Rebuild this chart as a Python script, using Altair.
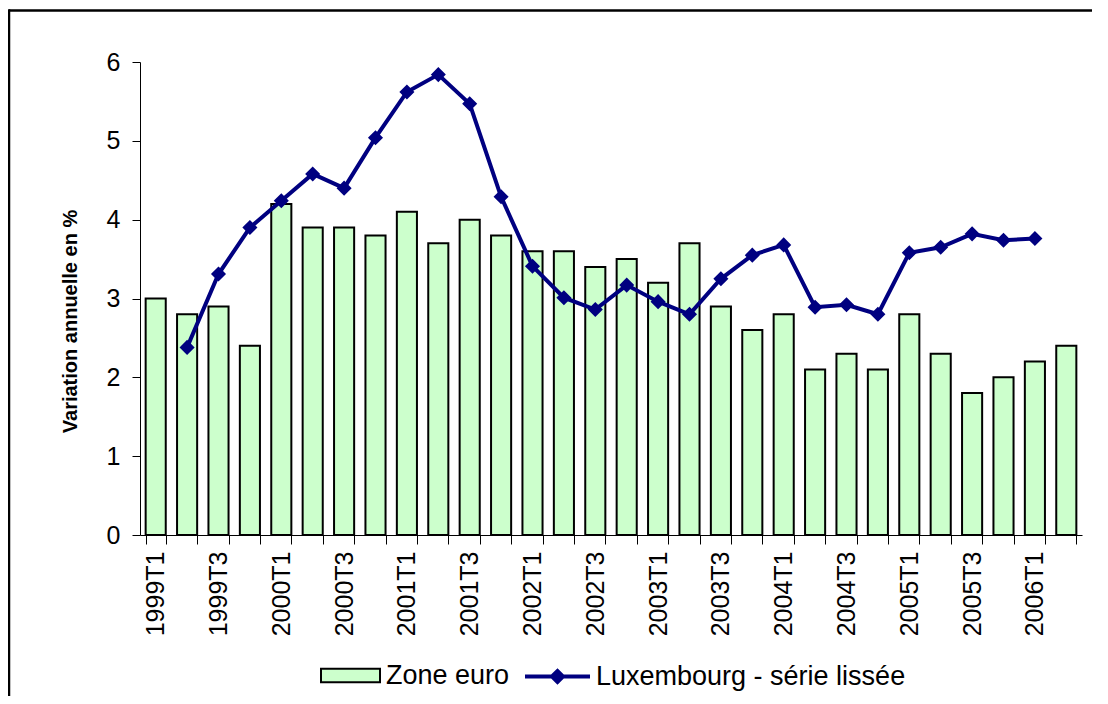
import altair as alt
import pandas as pd

quarters = [
    "1999T1", "1999T2", "1999T3", "1999T4",
    "2000T1", "2000T2", "2000T3", "2000T4",
    "2001T1", "2001T2", "2001T3", "2001T4",
    "2002T1", "2002T2", "2002T3", "2002T4",
    "2003T1", "2003T2", "2003T3", "2003T4",
    "2004T1", "2004T2", "2004T3", "2004T4",
    "2005T1", "2005T2", "2005T3", "2005T4",
    "2006T1", "2006T2",
]
zone_euro = [
    3.0, 2.8, 2.9, 2.4,
    4.2, 3.9, 3.9, 3.8,
    4.1, 3.7, 4.0, 3.8,
    3.6, 3.6, 3.4, 3.5,
    3.2, 3.7, 2.9, 2.6,
    2.8, 2.1, 2.3, 2.1,
    2.8, 2.3, 1.8, 2.0,
    2.2, 2.4,
]
lux_quarters = quarters[1:29]
luxembourg = [
    2.38, 3.31, 3.90,
    4.24, 4.58, 4.40, 5.04,
    5.62, 5.84, 5.47, 4.29,
    3.41, 3.01, 2.86, 3.17,
    2.96, 2.80, 3.25, 3.55,
    3.68, 2.89, 2.92, 2.80,
    3.58, 3.65, 3.82, 3.74,
    3.76,
]

bar_name = "Zone euro"
line_name = "Luxembourg - série lissée"

bars_df = pd.DataFrame({"q": quarters, "v": zone_euro, "s": bar_name})
line_df = pd.DataFrame({"q": lux_quarters, "v": luxembourg, "s": line_name})

FONT = "Liberation Sans"
W, H = 942, 473

xscale = alt.Scale(domain=quarters, paddingInner=0.36, paddingOuter=0.18)
yscale = alt.Scale(domain=[0, 6], nice=False)

x_axis = alt.Axis(
    title=None, tickBand="extent", tickSize=9, tickColor="black",
    domainColor="black", labelAngle=270, labelFontSize=25, labelFont=FONT,
    labelColor="black", labelPadding=7, labelOverlap=False, labelLimit=300,
    labelExpr="(indexof(datum.label, 'T1') > 0 || indexof(datum.label, 'T3') > 0) ? datum.label : ''",
)
y_axis = alt.Axis(
    title="Variation annuelle en %", values=[0, 1, 2, 3, 4, 5, 6], format="d", grid=False,
    tickSize=8, tickColor="black", domainColor="black",
    labelFontSize=25, labelFont=FONT, labelColor="black", labelPadding=12,
    titleFont=FONT, titleFontSize=20, titleFontWeight="bold", titleColor="black",
    titleAngle=270, titleAlign="center", titleBaseline="middle",
    titleX=-70, titleY=259,
)

bars = alt.Chart(bars_df).mark_bar(stroke="black", strokeWidth=2).encode(
    x=alt.X("q:N", scale=xscale, axis=x_axis, sort=quarters),
    y=alt.Y("v:Q", scale=yscale, axis=y_axis),
    color=alt.Color(
        "s:N",
        scale=alt.Scale(domain=[bar_name], range=["#CCFFCC"]),
        legend=alt.Legend(
            title=None, orient="none", legendX=180, legendY=583,
            symbolType="M-1,-0.23H1V0.23H-1Z", symbolSize=3481,
            symbolStrokeColor="black", symbolStrokeWidth=2, symbolFillColor="#CCFFCC",
            labelFont=FONT, labelFontSize=27, labelColor="black", labelOffset=5,
            labelLimit=500,
        ),
    ),
)

line = alt.Chart(line_df).mark_line(
    strokeWidth=4,
    point=alt.OverlayMarkDef(shape="diamond", size=150, filled=True, fill="#000080", stroke="#000080"),
).encode(
    x=alt.X("q:N", scale=xscale, axis=x_axis, sort=quarters),
    y=alt.Y("v:Q", scale=yscale, axis=y_axis),
    stroke=alt.Stroke(
        "s:N",
        scale=alt.Scale(domain=[line_name], range=["#000080"]),
        legend=alt.Legend(
            title=None, orient="none", legendX=383, legendY=580,
            symbolType="M-1,0H1M-0.17,0L0,-0.17L0.17,0L0,0.17Z", symbolSize=4225,
            symbolStrokeColor="#000080", symbolStrokeWidth=4, symbolFillColor="#000080",
            labelFont=FONT, labelFontSize=27, labelColor="black", labelOffset=4,
            labelLimit=500,
        ),
    ),
)

frame_top = alt.Chart(pd.DataFrame({"a": [0]})).mark_rule(
    stroke="black", strokeWidth=2.5
).encode(
    x=alt.value(-131), x2=alt.value(1200), y=alt.value(-51.5)
)
frame_left = alt.Chart(pd.DataFrame({"a": [0]})).mark_rule(
    stroke="black", strokeWidth=2.5
).encode(
    x=alt.value(-131), y=alt.value(-52.7), y2=alt.value(800)
)

chart = alt.layer(frame_top, frame_left, bars, line).resolve_scale(color="independent").properties(
    width=W, height=H,
    autosize=alt.AutoSizeParams(type="none"),
    padding={"left": 132, "top": 54, "right": 10, "bottom": 161},
    background="white",
).configure_view(stroke=None)

chart.save("out.html", embed_options={"renderer": "svg", "actions": False})
